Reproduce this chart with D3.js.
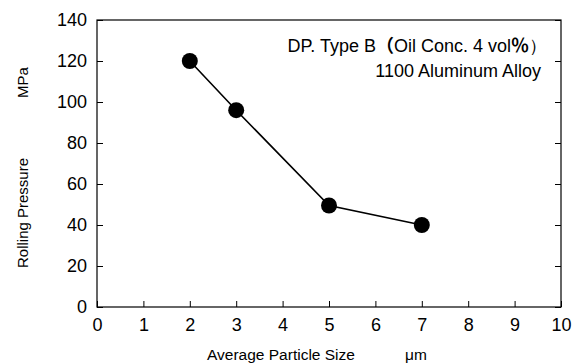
<!DOCTYPE html>
<html><head><meta charset="utf-8">
<script src="https://cdn.jsdelivr.net/npm/d3@7"></script>
<style>
body{margin:0;background:#fff;}
text{font-family:"Liberation Sans",Arial,sans-serif;fill:#000;}
</style></head>
<body><svg id="c" width="573" height="363"></svg>
<script>
const particleSize = [2, 3, 5, 7];
const rollingPressure = [120, 96, 49.5, 40];
const xTicks = [0,1,2,3,4,5,6,7,8,9,10];
const yTicks = [0,20,40,60,80,100,120,140];
const xTitle = "Average Particle Size";
const xUnit = "μm";
const yTitle = "Rolling Pressure";
const yUnit = "MPa";
const note1 = ["DP. Type B", "（", "Oil Conc. 4 vol", "％", "）"];
const note2 = "1100 Aluminum Alloy";

const svg = d3.select("#c");
const L=97, R=561, T=20, B=307;
const x = d3.scaleLinear().domain([0,10]).range([L,R]);
const y = d3.scaleLinear().domain([0,140]).range([B,T]);

svg.append("rect").attr("x",L).attr("y",T).attr("width",R-L).attr("height",B-T)
  .attr("fill","none").attr("stroke","#000").attr("stroke-width",1.2);

const xa = svg.append("g").attr("transform",`translate(0,${B})`)
  .call(d3.axisBottom(x).tickValues(xTicks).tickSize(-6).tickPadding(11).tickFormat(d3.format("d")));
const ya = svg.append("g").attr("transform",`translate(${L},0)`)
  .call(d3.axisLeft(y).tickValues(yTicks).tickSize(-6).tickPadding(10).tickFormat(d3.format("d")));
const yr = svg.append("g").attr("transform",`translate(${R},0)`)
  .call(d3.axisRight(y).tickValues(yTicks).tickSize(-6).tickFormat(""));
[xa,ya,yr].forEach(g=>{
  g.select(".domain").remove();
  g.selectAll(".tick line").attr("stroke","#000").attr("stroke-width",1);
  g.selectAll("text").attr("font-size",18).attr("font-family","Liberation Sans, Arial, sans-serif").attr("fill","#000");
});

const line = d3.line().x((d,i)=>x(particleSize[i])).y(d=>y(d));
svg.append("path").datum(rollingPressure).attr("d",line)
  .attr("fill","none").attr("stroke","#000").attr("stroke-width",1.6);
svg.selectAll("circle.p").data(rollingPressure).enter().append("circle")
  .attr("cx",(d,i)=>x(particleSize[i])).attr("cy",d=>y(d)).attr("r",8).attr("fill","#000");

svg.append("text").attr("x",207).attr("y",360).attr("font-size",15.5).text(xTitle);
svg.append("text").attr("x",405).attr("y",360).attr("font-size",15.5).text(xUnit);
svg.append("text").attr("transform","translate(28,268) rotate(-90)").attr("font-size",15).text(yTitle);
svg.append("text").attr("transform","translate(28,98) rotate(-90)").attr("font-size",15).text(yUnit);

const t1 = svg.append("text").attr("x",547).attr("y",52).attr("text-anchor","end").attr("font-size",18);
note1.forEach((s,i)=>{
  const sp = t1.append("tspan").text(s);
  if (i%2===1) sp.attr("font-family","Noto Sans CJK JP").attr("font-weight","bold");
});
svg.append("text").attr("x",541).attr("y",77).attr("text-anchor","end").attr("font-size",18).text(note2);
</script></body></html>
